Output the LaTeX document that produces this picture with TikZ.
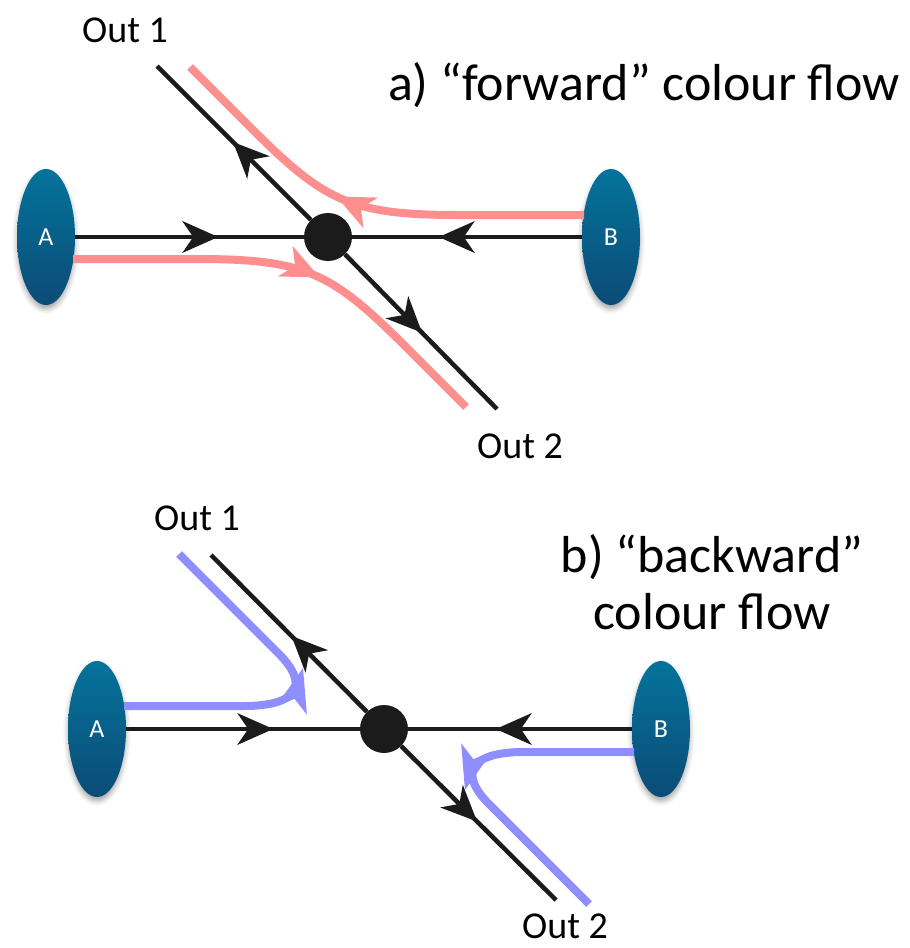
\documentclass[tikz,border=0pt]{standalone}
\usepackage{fontspec}
\setmainfont{Carlito}
\usetikzlibrary{decorations.markings,shapes.geometric,shadows.blur,calc}

\definecolor{ink}{HTML}{1B1B1B}
\definecolor{flowpink}{HTML}{FF8E8E}
\definecolor{flowblue}{HTML}{8E8EFF}
\definecolor{blobtop}{HTML}{04739B}
\definecolor{blobbottom}{HTML}{0B4C77}

% notched arrowhead with its point at the marking:
% #1 colour, #2 length, #3 half width, #4 notch depth
\newcommand\flowhead[4]{%
  \fill[#1] (0pt,0pt) -- (-#2pt,#3pt) -- (-#2pt+#4pt,0pt) -- (-#2pt,-#3pt) -- cycle;}

\tikzset{
  blob/.style={ellipse, minimum width=58pt, minimum height=136pt, inner sep=0pt,
    top color=blobtop, bottom color=blobbottom, text=white,
    font=\fontsize{26}{26}\selectfont,
    blur shadow={shadow xshift=0pt, shadow yshift=-4pt, shadow blur radius=5pt, shadow opacity=35}},
  vertex/.style={circle, fill=ink, minimum size=48pt, inner sep=0pt},
  leg/.style={draw=ink, line width=4.5pt},
  legtip/.style={postaction={decorate, decoration={markings,
      mark=at position #1 with {\flowhead{ink}{36}{16}{11}}}}},
  pinkline/.style={draw=flowpink, line width=8pt},
  blueline/.style={draw=flowblue, line width=8pt},
  pinktip/.style={decorate, decoration={markings,
      mark=at position #1 with {\flowhead{flowpink}{38}{17}{11}}}},
  bluetip/.style={decorate, decoration={markings,
      mark=at position 1 with {\flowhead{flowblue}{44}{16}{12}}}},
  outlbl/.style={anchor=base, inner sep=0pt, font=\fontsize{38}{38}\selectfont},
  headline/.style={inner sep=0pt, font=\fontsize{52}{57}\selectfont, align=center},
}

\begin{document}
\begin{tikzpicture}[x=1pt, y=-1pt]
\useasboundingbox (0,0) rectangle (910,948);

% ---------- a) forward colour flow ----------
\begin{scope}[shift={(328,237)}]
  \node[vertex] (va) at (0,0) {};
  \node[blob] (Aa) at (-282,0) {A};
  \node[blob] (Ba) at (283,0) {B};
  \coordinate (ua) at (-171,-171);
  \coordinate (da) at (169,172);
  \draw[leg, legtip=143pt] (Aa) -- (va);
  \draw[leg, legtip=143pt] (Ba) -- (va);
  \draw[leg, legtip=110pt] (va) -- (ua);
  \draw[leg, legtip=110pt] (va) -- (da);
  % colour line from B to Out 1
  \draw[pinkline] ($(Ba.center)+(-27,-22)$) -- (130,-22)
    .. controls (20,-22) and (-5,-37) .. (-80,-112) -- (-138,-170);
  \path[pinktip=0.52]
    (130,-22) .. controls (20,-22) and (-5,-37) .. (-80,-112);
  % colour line from A to Out 2
  \draw[pinkline] ($(Aa.center)+(27,22)$) -- (-130,22)
    .. controls (-20,22) and (5,37) .. (80,112) -- (138,170);
  \path[pinktip=0.52]
    (-130,22) .. controls (-20,22) and (5,37) .. (80,112);
\end{scope}

% ---------- b) backward colour flow ----------
\begin{scope}[shift={(384,729)}]
  \node[vertex] (vb) at (0,0) {};
  \node[blob] (Ab) at (-287,0) {A};
  \node[blob] (Bb) at (277,0) {B};
  \coordinate (ub) at (-173,-174);
  \coordinate (db) at (172,171);
  \draw[leg, legtip=147pt] (Ab) -- (vb);
  \draw[leg, legtip=136pt] (Bb) -- (vb);
  \draw[leg, legtip=107pt] (vb) -- (ub);
  \draw[leg, legtip=107pt] (vb) -- (db);
  % colour line from A turning back to Out 1
  \draw[blueline] ($(Ab.center)+(27,-23)$) -- (-140,-23)
    .. controls (-85,-23) and (-75,-45) .. (-105,-75) -- (-205,-175);
  \path[bluetip] (-93,-17) -- (-81,-61);
  % colour line from B turning back to Out 2
  \draw[blueline] ($(Bb.center)+(-27,23)$) -- (140,23)
    .. controls (85,23) and (75,45) .. (105,75) -- (205,175);
  \path[bluetip] (93,17) -- (81,61);
\end{scope}

% ---------- labels ----------
\node[outlbl] (o1a) at (125,42) {Out 1};
\node[outlbl] (o2a) at (520,458) {Out 2};
\node[headline, anchor=base] (ha) at (644,100) {a) “forward” colour flow};
\node[outlbl] (o1b) at (197,530) {Out 1};
\node[outlbl] (o2b) at (565,938) {Out 2};
\node[headline] (hb) at (712,582) {b) “backward”\\colour flow};
\end{tikzpicture}
\end{document}
